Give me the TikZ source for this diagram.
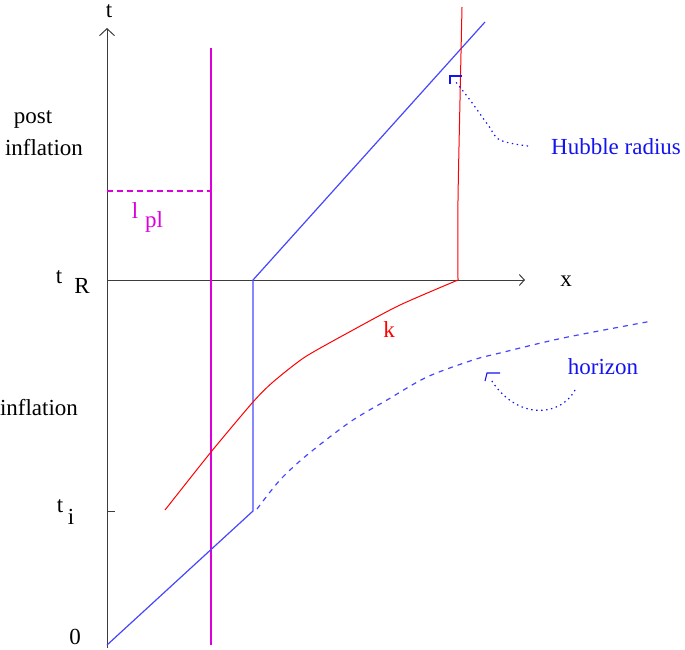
\documentclass[tikz,border=0pt]{standalone}
\usepackage{fontspec}
\setmainfont{Liberation Serif}
\usetikzlibrary{arrows.meta}
\definecolor{axisgray}{RGB}{60,60,60}
\definecolor{lineblue}{RGB}{70,70,255}
\definecolor{textblue}{RGB}{20,20,240}
\definecolor{plmagenta}{RGB}{220,0,220}
\definecolor{kred}{RGB}{255,0,0}
\begin{document}
\begin{tikzpicture}[x=1pt,y=-1pt,
  lbl/.style={font=\fontsize{23}{25}\selectfont, inner sep=0pt},
  axisline/.style={draw=axisgray, line width=1pt},
  blueline/.style={draw=lineblue, line width=1pt},
  redline/.style={draw=kred, line width=1pt},
  plline/.style={draw={rgb,255:red,220;green,0;blue,220}, line width=1.2pt},
  pointer/.style={draw=textblue, line width=1.2pt, dash pattern=on 1.4pt off 3.6pt},
  hook/.style={draw=textblue, line width=1.1pt}]
\useasboundingbox (0,0) rectangle (685,650);
% coordinates
\coordinate (origin) at (107,648);
\coordinate (ttop) at (107,28);
\coordinate (tR) at (107,280);
\coordinate (xend) at (525,280);
\coordinate (tiA) at (107,511);
\coordinate (tiB) at (115,511);
\coordinate (magtop) at (211,48);
\coordinate (magbot) at (211,645);
\coordinate (plA) at (107,191);
\coordinate (plB) at (211,191);
\coordinate (b0) at (107,645);
\coordinate (b1) at (253,511);
\coordinate (b2) at (253,280);
\coordinate (b3) at (485,22);
\coordinate (hz1) at (257,509);
\coordinate (hz2) at (652,321);
\coordinate (k0) at (165,510);
\coordinate (k1) at (458,280);
\coordinate (k2) at (462,7);
% axes
\draw[axisline, -{Straight Barb[length=7pt,width=15pt]}] (origin) -- (ttop);
\draw[axisline, -{Straight Barb[length=5pt,width=11pt]}] (tR) -- (xend);
\draw[axisline] (tiA) -- (tiB);
% magenta
\draw[plline] (magtop) -- (magbot);
\draw[plline, dash pattern=on 6pt off 4pt] (plA) -- (plB);
% blue world line
\draw[blueline, line width=1.2pt] (b0) -- (b1) -- (b2) -- (b3);
% horizon dashed
\draw[blueline, line width=1.2pt, dash pattern=on 5pt off 5pt] plot[smooth, tension=0.5] coordinates {(hz1) (280,480) (307,455) (350,422) (387,400) (427,377) (473,360) (500,353) (563,338) (hz2)};
% red k
\draw[redline] plot[smooth, tension=0.4] coordinates {(k0) (211,452) (253,402) (273,382) (305,357) (353,330) (400,305) (k1)};
\draw[redline] plot[smooth, tension=0.4] coordinates {(k1) (458,200) (460,100) (k2)};
% pointers
\coordinate (hubtip) at (450,76);
\coordinate (hubA) at (462,76);
\coordinate (hubB) at (450,84);
\draw[pointer] plot[smooth, tension=0.6] coordinates {(528,146) (500,140) (488,125) (470,100) (455,81)};
\draw[hook] (hubA) -- (hubtip) -- (hubB);
\coordinate (hortip) at (487,373);
\coordinate (horA) at (500,373);
\coordinate (horB) at (485,381);
\draw[pointer] (575,390) .. controls (560,418) and (515,420) .. (490,378);
\draw[hook] (horA) -- (hortip) -- (horB);
% labels
\node[lbl] (lt) at (109,11) {t};
\node[lbl] (lx) at (566,281) {x};
\node[lbl] (lpost) at (33,119) {post};
\node[lbl] (linfl1) at (44,148) {inflation};
\node[lbl] (linfl2) at (39,408) {inflation};
\node[lbl] (ltR) at (59,277) {t};
\node[lbl] (lR) at (82,286) {R};
\node[lbl] (lti) at (60,506) {t};
\node[lbl] (li) at (71,517) {i};
\node[lbl] (l0) at (75,637) {0};
\node[lbl, text=plmagenta] (ll) at (135,211) {l};
\node[lbl, text=plmagenta] (lpl) at (154,222) {pl};
\node[lbl, text=kred] (lk) at (389,330) {k};
\node[lbl, text=textblue] (lhub) at (616,147) {Hubble radius};
\node[lbl, text=textblue] (lhor) at (603,367) {horizon};
\end{tikzpicture}
\end{document}
